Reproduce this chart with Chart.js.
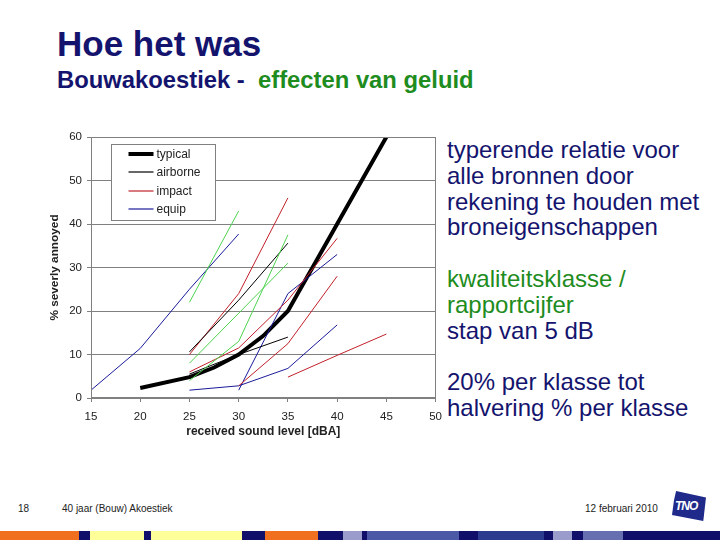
<!DOCTYPE html>
<html>
<head>
<meta charset="utf-8">
<script src="https://cdn.jsdelivr.net/npm/chart.js"></script>
<style>
  body { margin:0; width:720px; height:540px; background:#fff; position:relative; overflow:hidden; font-family:"Liberation Sans", Arial, sans-serif; }
  .abs { position:absolute; white-space:nowrap; }
  #title { left:57px; top:24px; font-size:35px; font-weight:bold; color:#14146e; }
  #sub { left:57px; top:66px; font-size:23.8px; font-weight:bold; color:#14146e; }
  #sub span { color:#1e8c1e; }
  #side { left:447px; top:137px; font-size:24px; line-height:25.8px; color:#14146e; }
  #side .g { color:#1e8c1e; }
  .foot { font-size:10px; color:#222; top:503px; }
  #chartBox { position:absolute; left:40px; top:125px; width:410px; height:320px; }
  #logo { left:672px; top:491px; width:34px; height:30px; background:#1f2a8a;
          clip-path:polygon(12% 0, 100% 22%, 92% 100%, 0 80%, 6% 30%); }
  #logo b { position:absolute; left:3px; top:8px; font-size:12px; color:#fff; letter-spacing:-1px; font-style:italic; }
  #bar { left:0; top:531px; width:720px; height:9px; display:flex; }
  #bar i { display:block; height:9px; }
</style>
</head>
<body>
<div id="title" class="abs">Hoe het was</div>
<div id="sub" class="abs">Bouwakoestiek -&nbsp; <span>effecten van geluid</span></div>
<div id="side" class="abs">typerende relatie voor<br>alle bronnen door<br>rekening te houden met<br>broneigenschappen<br>&nbsp;<br><span class="g">kwaliteitsklasse /</span><br><span class="g">rapportcijfer</span><br>stap van 5 dB<br>&nbsp;<br>20% per klasse tot<br>halvering % per klasse</div>
<div id="chartBox"><canvas id="c" width="410" height="320"></canvas></div>
<div class="abs foot" style="left:18px">18</div>
<div class="abs foot" style="left:62px">40 jaar (Bouw) Akoestiek</div>
<div class="abs foot" style="left:585px">12 februari 2010</div>
<div id="logo" class="abs"><b>TNO</b></div>
<div id="bar" class="abs"></div>
<script>
// --- Data (x = received level dBA, y = % severely annoyed) ---
const xTicks = [15, 20, 25, 30, 35, 40, 45, 50];
const yTicks = [0, 10, 20, 30, 40, 50, 60];
const legendLabels = ['typical', 'airborne', 'impact', 'equip'];

const typicalLevels = [20, 25, 27.5, 30, 32.5, 35, 36, 37.5, 40, 42.5, 45];
const typicalValues = [2.3, 4.8, 7, 10, 14.3, 20, 24, 30, 40, 50, 60];

const airborneLevels = [[25, 30, 35], [25, 30, 35]];
const airborneValues = [[10.6, 22.5, 35.6], [5.5, 10, 14]];

const impactLevels = [[25, 30, 35], [25, 30, 35, 40], [30, 35, 40], [35, 40, 45]];
const impactValues = [[10, 24, 46], [6, 11.5, 22.5, 36.7], [2.8, 12.5, 28], [4.8, 9.8, 14.7]];

const equipLevels = [[15, 20, 25, 30], [25, 30, 35, 40], [30, 35, 40]];
const equipValues = [[1.8, 11.4, 25, 37.7], [1.8, 2.8, 6.8, 16.8], [1.8, 24, 33]];

// green curves (not in the legend)
const otherLevels = [[25, 30], [25, 30, 35], [25, 30, 35]];
const otherValues = [[22, 43], [4, 13, 37.5], [8, 19.5, 31]];

// --- Styles ---
const COL = { typical:'#000', airborne:'#000', impact:'#c0202a', equip:'#1a1a9a', other:'#4cd24c' };
const GRID = '#808080';
const FONT = '"Liberation Sans", Arial, sans-serif';

const pts = (xs, ys) => xs.map((x, i) => ({ x, y: ys[i] }));
const thin = (group, levels, values) => levels.map((xs, k) => ({
  label: group + (k + 1), data: pts(xs, values[k]), borderColor: COL[group], borderWidth: 1, order: 0
}));

const datasets = [
  { label:'typical', data: pts(typicalLevels, typicalValues), borderColor: COL.typical, borderWidth: 4, order: 5 },
  ...thin('other', otherLevels, otherValues),
  ...thin('airborne', airborneLevels, airborneValues),
  ...thin('impact', impactLevels, impactValues),
  ...thin('equip', equipLevels, equipValues),
];

// --- Plugins: full frame + legend box inside the plot ---
const frame = {
  id: 'frame',
  afterDatasetsDraw(chart) {
    const { ctx, chartArea: a } = chart;
    ctx.save(); ctx.strokeStyle = GRID; ctx.lineWidth = 1;
    ctx.strokeRect(Math.round(a.left) + .5, Math.round(a.top) + .5, Math.round(a.right - a.left) - 1, Math.round(a.bottom - a.top) - 1);
    ctx.restore();
  }
};

const legendBox = {
  id: 'legendBox',
  afterDraw(chart) {
    const { ctx, chartArea: a } = chart;
    const x0 = Math.round(a.left + 20) + .5, y0 = Math.round(a.top + 7) + .5, w = 104, h = 76;
    ctx.save();
    ctx.fillStyle = '#fff'; ctx.fillRect(x0, y0, w, h);
    ctx.strokeStyle = GRID; ctx.lineWidth = 1; ctx.strokeRect(x0, y0, w, h);
    ctx.font = '12px ' + FONT; ctx.textBaseline = 'middle';
    legendLabels.forEach((lab, i) => {
      const y = Math.round(y0 + 9.5 + i * 18.4);
      ctx.beginPath(); ctx.strokeStyle = COL[lab]; ctx.lineWidth = i === 0 ? 4 : 1.2;
      ctx.moveTo(x0 + 17, y); ctx.lineTo(x0 + 42, y); ctx.stroke();
      ctx.fillStyle = '#222';
      ctx.fillText(lab, x0 + 45, y + 1);
    });
    ctx.restore();
  }
};

new Chart(document.getElementById('c'), {
  type: 'line',
  data: { datasets },
  options: {
    responsive: false, animation: false, devicePixelRatio: 1,
    layout: { padding: { top: 12, right: 13, left: 0, bottom: 0 } },
    elements: { point: { radius: 0 }, line: { tension: 0 } },
    plugins: { legend: { display: false }, tooltip: { enabled: false } },
    scales: {
      x: {
        type: 'linear', min: xTicks[0], max: xTicks[xTicks.length - 1],
        afterFit: s => { s.height = 47; },
        afterBuildTicks: s => { s.ticks = xTicks.map(v => ({ value: v })); },
        grid: { drawOnChartArea: false, tickLength: 4, color: GRID },
        border: { color: GRID },
        ticks: { padding: 8, color: '#222', font: { family: FONT, size: 11.5 } },
        title: { display: true, text: 'received sound level [dBA]', color: '#222', padding: { top: 0, bottom: 6 },
                 font: { family: FONT, size: 12, weight: 'bold' } }
      },
      y: {
        min: yTicks[0], max: yTicks[yTicks.length - 1],
        afterFit: s => { s.width = 51; },
        afterBuildTicks: s => { s.ticks = yTicks.map(v => ({ value: v })); },
        grid: { color: GRID, tickLength: 4 },
        border: { color: GRID },
        ticks: { padding: 5, color: '#222', font: { family: FONT, size: 11.5 } },
        title: { display: true, text: '% severly annoyed', color: '#222', padding: { top: 8, bottom: 0 },
                 font: { family: FONT, size: 11.8, weight: 'bold' } }
      }
    }
  },
  plugins: [frame, legendBox]
});

// --- Footer colour strip ---
const barSegs = [[79,'#f07020'],[11,'#10106a'],[54,'#ffff99'],[7,'#10106a'],[91,'#ffff99'],[23,'#10106a'],[53,'#f07020'],
  [25,'#10106a'],[19,'#9a9ccc'],[5,'#10106a'],[92,'#4b59a6'],[19,'#10106a'],[66,'#2c3b8e'],[9,'#10106a'],[19,'#9a9ccc'],
  [11,'#10106a'],[40,'#6670b0'],[97,'#10106a']];
const bar = document.getElementById('bar');
barSegs.forEach(([w, c]) => { const i = document.createElement('i'); i.style.width = w + 'px'; i.style.background = c; bar.appendChild(i); });
</script>
</body>
</html>
